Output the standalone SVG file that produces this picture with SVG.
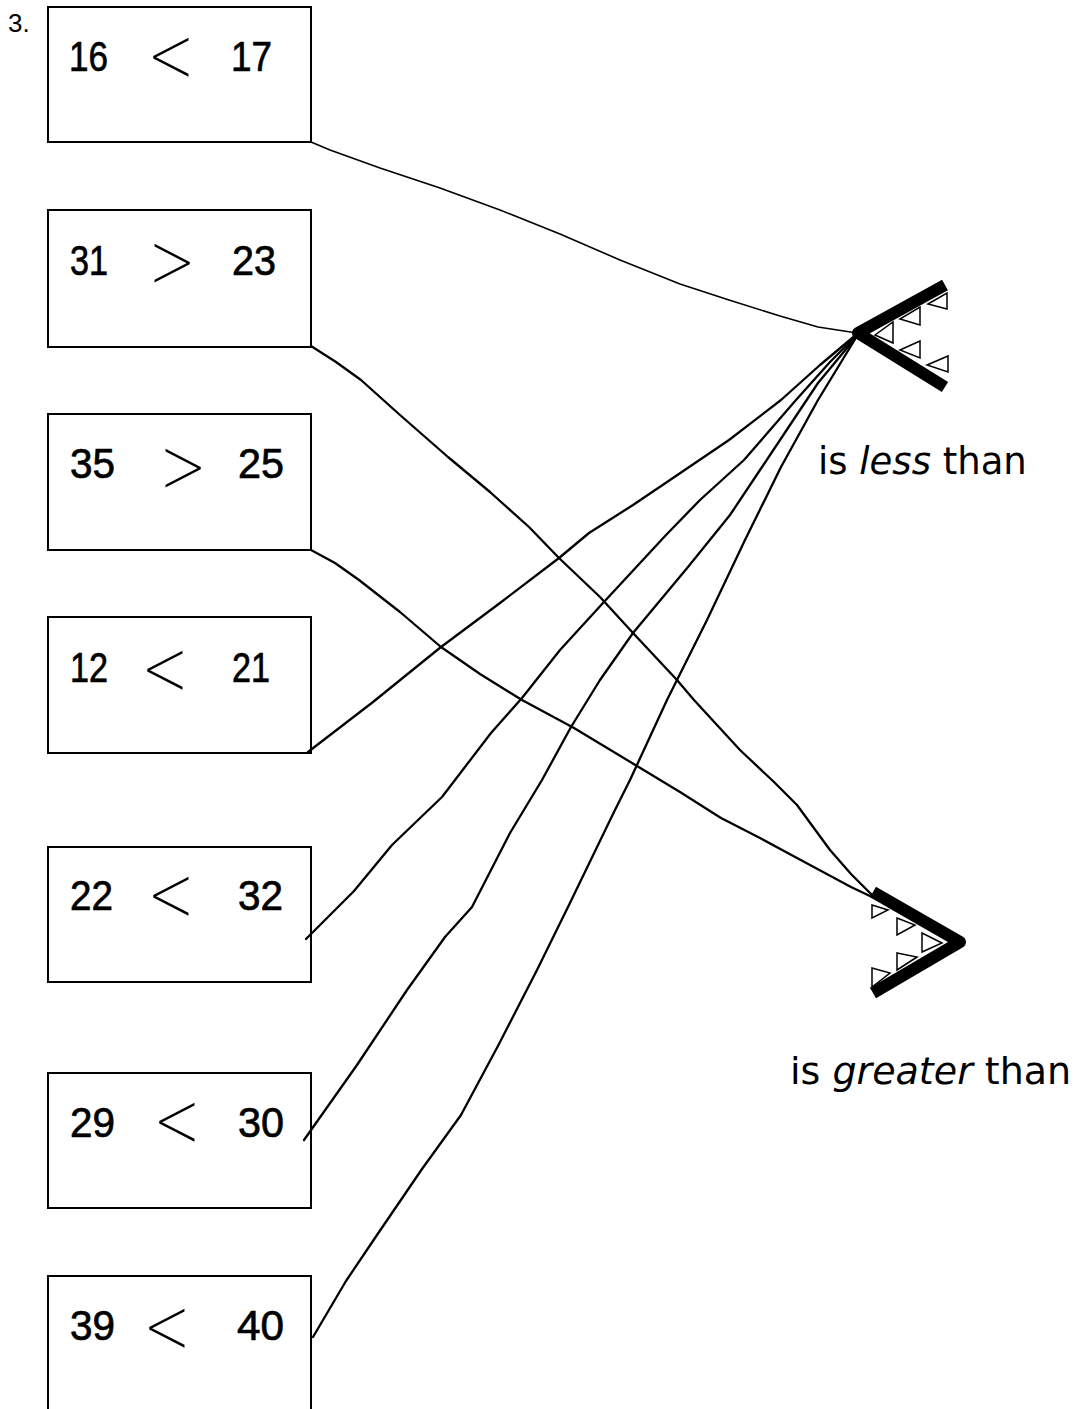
<svg xmlns="http://www.w3.org/2000/svg" width="1078" height="1409" viewBox="0 0 1078 1409">
<style>
.box{fill:#fff;stroke:#000;stroke-width:2}
.num{font-family:"Liberation Sans",Arial,sans-serif;font-size:42px;fill:#000;stroke:#000;stroke-width:0.7}
.sym{font-family:Roboto,"DejaVu Sans",sans-serif;font-weight:100;font-size:75px;fill:#000}
.lbl{font-family:"DejaVu Sans",sans-serif;fill:#000}
.wire{fill:none;stroke:#000;stroke-width:2.3;stroke-linejoin:round;stroke-linecap:round}
.jaw{fill:none;stroke:#000;stroke-width:12;stroke-linejoin:round}
.tooth{fill:#fff;stroke:#000;stroke-width:1.5}
</style>
<rect width="1078" height="1409" fill="#fff"/>
<text x="8" y="32" font-family="Liberation Sans, Arial, sans-serif" font-size="26">3.</text>

<g id="box1"><rect class="box" x="48" y="7" width="263" height="135"/>
<text class="num" x="69" y="71" textLength="39" lengthAdjust="spacingAndGlyphs">16</text>
<text class="sym" text-anchor="middle" dominant-baseline="central" transform="translate(172,56) scale(1.15,1.3)">&lt;</text>
<text class="num" x="231" y="71" textLength="41" lengthAdjust="spacingAndGlyphs">17</text></g>

<g id="box2"><rect class="box" x="48" y="210" width="263" height="137"/>
<text class="num" x="70" y="275" textLength="38" lengthAdjust="spacingAndGlyphs">31</text>
<text class="sym" text-anchor="middle" dominant-baseline="central" transform="translate(172,262) scale(1.15,1.3)">&gt;</text>
<text class="num" x="232" y="275" textLength="44" lengthAdjust="spacingAndGlyphs">23</text></g>

<g id="box3"><rect class="box" x="48" y="414" width="263" height="136"/>
<text class="num" x="70" y="478" textLength="45" lengthAdjust="spacingAndGlyphs">35</text>
<text class="sym" text-anchor="middle" dominant-baseline="central" transform="translate(183,467) scale(1.15,1.3)">&gt;</text>
<text class="num" x="238" y="478" textLength="46" lengthAdjust="spacingAndGlyphs">25</text></g>

<g id="box4"><rect class="box" x="48" y="617" width="263" height="136"/>
<text class="num" x="70" y="682" textLength="38" lengthAdjust="spacingAndGlyphs">12</text>
<text class="sym" text-anchor="middle" dominant-baseline="central" transform="translate(166,669) scale(1.15,1.3)">&lt;</text>
<text class="num" x="232" y="682" textLength="38" lengthAdjust="spacingAndGlyphs">21</text></g>

<g id="box5"><rect class="box" x="48" y="847" width="263" height="135"/>
<text class="num" x="70" y="910" textLength="43" lengthAdjust="spacingAndGlyphs">22</text>
<text class="sym" text-anchor="middle" dominant-baseline="central" transform="translate(172,895) scale(1.15,1.3)">&lt;</text>
<text class="num" x="238" y="910" textLength="45" lengthAdjust="spacingAndGlyphs">32</text></g>

<g id="box6"><rect class="box" x="48" y="1073" width="263" height="135"/>
<text class="num" x="70" y="1137" textLength="45" lengthAdjust="spacingAndGlyphs">29</text>
<text class="sym" text-anchor="middle" dominant-baseline="central" transform="translate(178,1121) scale(1.15,1.3)">&lt;</text>
<text class="num" x="238" y="1137" textLength="46" lengthAdjust="spacingAndGlyphs">30</text></g>

<g id="box7"><rect class="box" x="48" y="1276" width="263" height="150"/>
<text class="num" x="70" y="1340" textLength="45" lengthAdjust="spacingAndGlyphs">39</text>
<text class="sym" text-anchor="middle" dominant-baseline="central" transform="translate(168,1327) scale(1.15,1.3)">&lt;</text>
<text class="num" x="237" y="1340" textLength="47" lengthAdjust="spacingAndGlyphs">40</text></g>

<g id="connectors">
<polyline class="wire" style="stroke-width:1.6" points="311,142 330,150 380,168 440,188 500,210 560,234 620,260 680,284 729,300 780,316 818,327 857,333"/>
<polyline class="wire" points="311,346 336,362 361,380 400,415 448,457 490,492 529,527 559,558 600,597 633,633 677,680 694,700 740,750 774,782 797,805 830,850 851,874 872,895"/>
<polyline class="wire" points="311,550 335,563 359,580 400,612 441,647 480,674 522,700 574,728 637,766 680,792 721,818 760,838 797,858 851,887 872,897"/>
<polyline class="wire" points="308,752 373,702 441,647 500,603 559,558 589,533 633,505 670,480 729,440 781,400 820,365 857,334"/>
<polyline class="wire" points="306,939 354,891 392,845 442,797 491,733 522,698 560,650 603,603 666,535 700,500 744,460 796,400 830,362 857,335"/>
<polyline class="wire" points="304,1140 357,1065 407,990 445,937 472,907 510,833 542,780 571,727 600,680 633,633 688,567 730,515 762,467 790,425 818,383 857,336"/>
<polyline class="wire" points="313,1337 346,1281 377,1235 422,1169 461,1115 499,1044 537,970 568,907 614,812 630,780 667,700 677,680 707,620 745,540 781,467 818,400 857,336"/>
</g>

<g id="less-than">
<polygon class="tooth" points="928,304 947,293 947,309"/>
<polygon class="tooth" points="900,319 920,307 920,325"/>
<polygon class="tooth" points="875,335 893,322 893,343"/>
<polygon class="tooth" points="900,350 920,341 920,358"/>
<polygon class="tooth" points="927,365 948,356 948,372"/>
<polyline class="jaw" points="945,285 858,333 945,387"/>
<text class="lbl" x="818" y="474" font-size="37">is <tspan font-style="italic">less</tspan> than</text>
</g>

<g id="greater-than">
<polygon class="tooth" points="872,905 888,910 872,918"/>
<polygon class="tooth" points="897,918 915,925 897,935"/>
<polygon class="tooth" points="922,933 942,943 922,952"/>
<polygon class="tooth" points="897,953 917,957 897,970"/>
<polygon class="tooth" points="872,968 890,973 872,987"/>
<polyline class="jaw" points="873,892 960,942 873,993"/>
<text class="lbl" x="790" y="1084" font-size="38">is <tspan font-style="italic">greater</tspan> than</text>
</g>
</svg>
